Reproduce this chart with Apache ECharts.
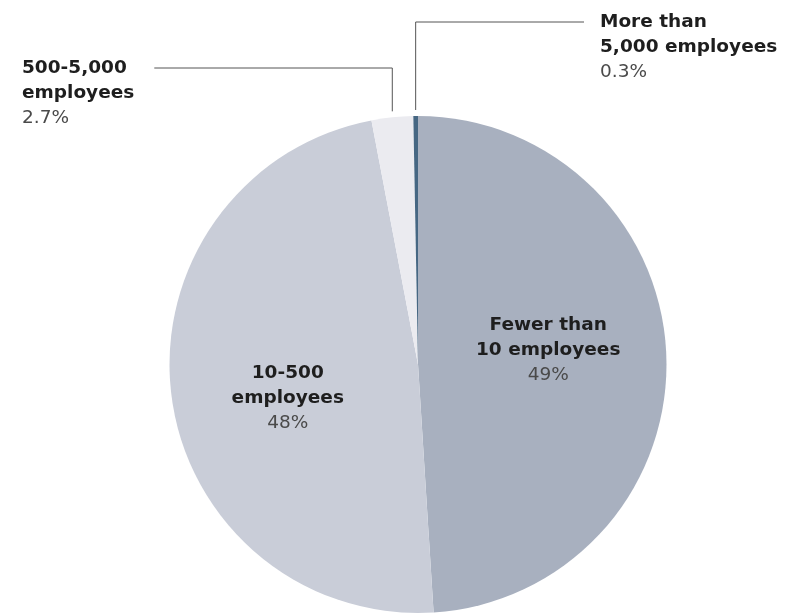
<!DOCTYPE html>
<html><head><meta charset="utf-8">
<script src="https://cdn.jsdelivr.net/npm/echarts/dist/echarts.min.js"></script>
<style>html,body{margin:0;padding:0;background:#fff}#c{width:789px;height:614px}</style>
</head><body><div id="c"></div>
<script>
// ---- data ----
const categories = ['Fewer than\n10 employees', '10-500\nemployees', '500-5,000\nemployees', 'More than\n5,000 employees'];
const shares = [49, 48, 2.7, 0.3];
const sliceColors = ['#a8b0bf', '#c9cdd8', '#ebebf0', '#466783'];

// ---- label placement (style) ----
const placement = [
  { inside: true, dx: 3, dy: -10 },
  { inside: true, dx: -4, dy: 18 },
  { inside: false, side: 'left', x: 22, lineY: 68, gap: 20 },
  { inside: false, side: 'right', x: 600, lineY: 22, gap: 16 }
];

const FONT = '"DejaVu Sans", sans-serif';
const chart = echarts.init(document.getElementById('c'), null, { renderer: 'canvas' });

const data = categories.map((name, i) => ({
  name: name,
  value: shares[i],
  itemStyle: { color: sliceColors[i] },
  label: { position: placement[i].inside ? 'inside' : 'outside', align: placement[i].inside ? 'center' : 'left' },
  labelLine: { show: !placement[i].inside }
}));

chart.setOption({
  animation: false,
  backgroundColor: '#ffffff',
  series: [{
    type: 'pie',
    center: [418, 364.5],
    radius: 248.5,
    startAngle: 90,
    clockwise: true,
    avoidLabelOverlap: false,
    emphasis: { disabled: true },
    itemStyle: { borderWidth: 0 },
    data: data,
    label: {
      show: true,
      fontFamily: FONT,
      formatter: p => '{n|' + p.name + '}\n{p|' + p.value + '%}',
      rich: {
        n: { fontFamily: FONT, fontSize: 18.5, fontWeight: 'bold', color: '#1e1e1e', lineHeight: 25 },
        p: { fontFamily: FONT, fontSize: 18.5, fontWeight: 'normal', color: '#4a4a4a', lineHeight: 25 }
      }
    },
    labelLine: { lineStyle: { color: '#555555', width: 1 }, length: 20, length2: 20 },
    labelLayout: function (p) {
      const cfg = placement[p.dataIndex];
      if (cfg.inside) return { dx: cfg.dx, dy: cfg.dy };
      const a = p.labelLinePoints[0];
      const w = p.labelRect.width;
      const endX = cfg.side === 'left' ? cfg.x + w + cfg.gap : cfg.x - cfg.gap;
      return {
        x: cfg.x, y: cfg.lineY - 12.5, align: 'left', verticalAlign: 'top',
        labelLinePoints: [[a[0], a[1] - 6], [a[0], cfg.lineY], [endX, cfg.lineY]]
      };
    }
  }]
});
</script>
</body></html>
